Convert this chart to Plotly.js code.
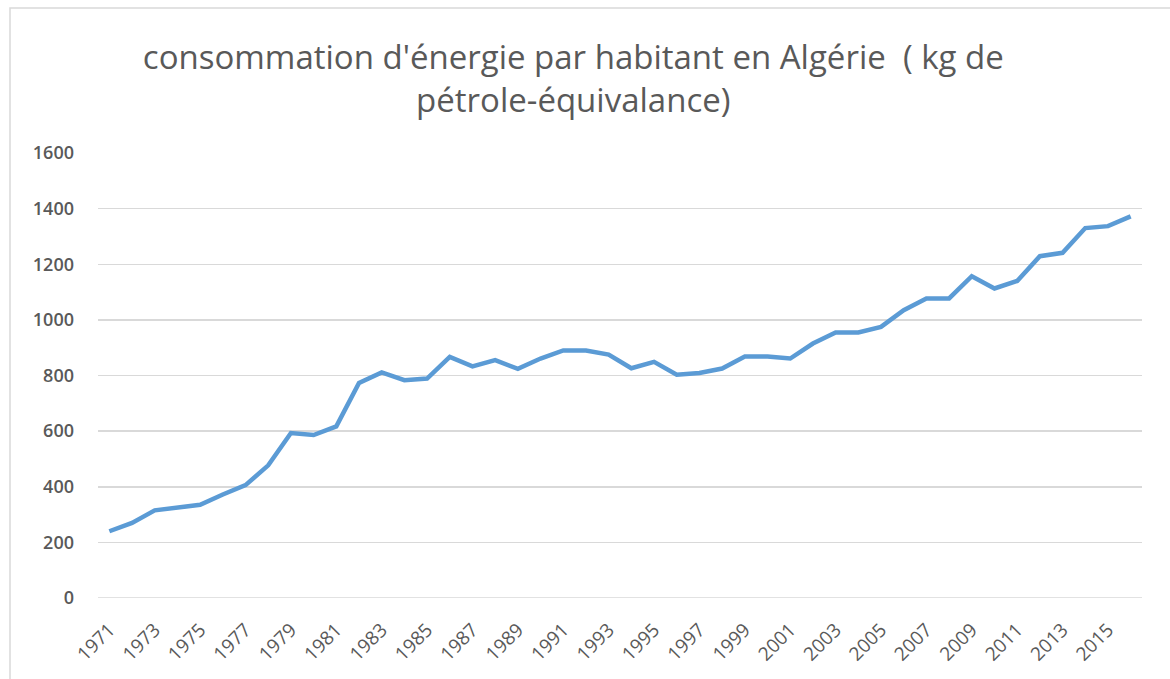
<!DOCTYPE html>
<html>
<head>
<meta charset="utf-8">
<script src="https://cdn.plot.ly/plotly-3.0.1.min.js"></script>
<style>
  html, body { margin: 0; padding: 0; background: #ffffff; }
  #chart { width: 1170px; height: 679px; }
</style>
</head>
<body>
<div id="chart"></div>
<script>
const years = ["1971","1972","1973","1974","1975","1976","1977","1978","1979","1980",
  "1981","1982","1983","1984","1985","1986","1987","1988","1989","1990",
  "1991","1992","1993","1994","1995","1996","1997","1998","1999","2000",
  "2001","2002","2003","2004","2005","2006","2007","2008","2009","2010",
  "2011","2012","2013","2014","2015","2016"];
const consumption = [240, 270, 315, 327, 335, 372, 406, 477, 593, 586,
  617, 773, 811, 783, 789, 867, 833, 855, 824, 861,
  890, 890, 875, 826, 849, 803, 809, 825, 868, 868,
  861, 915, 955, 955, 975, 1035, 1077, 1077, 1157, 1113,
  1140, 1229, 1241, 1330, 1337, 1372];
const xTickLabels = ["1971","1973","1975","1977","1979","1981","1983","1985","1987","1989",
  "1991","1993","1995","1997","1999","2001","2003","2005","2007","2009",
  "2011","2013","2015"];
const yTicks = [0, 200, 400, 600, 800, 1000, 1200, 1400, 1600];
const chartTitle = "consommation d'énergie par habitant en Algérie  ( kg de<br>pétrole-équivalance)";

const font = "Open Sans, sans-serif";

const trace = {
  x: years,
  y: consumption,
  type: "scatter",
  mode: "lines",
  line: { color: "#5B9BD5", width: 4.5, shape: "linear" },
  hoverinfo: "x+y"
};

const L = 98, R = 28, T = 153, B = 81;
const pw = 1170 - L - R, ph = 679 - T - B;

const layout = {
  width: 1170,
  height: 679,
  margin: { l: L, r: R, t: T, b: B, pad: 0 },
  paper_bgcolor: "#ffffff",
  plot_bgcolor: "#ffffff",
  showlegend: false,
  title: {
    text: chartTitle,
    font: { family: font, size: 33, color: "#595959" },
    x: 0.49, xanchor: "center", xref: "container",
    y: 0.898, yanchor: "middle", yref: "container"
  },
  xaxis: {
    type: "category",
    tickmode: "array",
    tickvals: xTickLabels,
    ticktext: xTickLabels,
    tickangle: -45,
    showgrid: false,
    zeroline: false,
    showline: false,
    ticks: "",
    ticklabelstandoff: 16,
    tickfont: { family: font, size: 19, color: "#595959" },
    range: [-0.5, years.length - 0.5],
    fixedrange: true
  },
  yaxis: {
    range: [0, 1600],
    tickmode: "array",
    tickvals: yTicks,
    ticktext: yTicks.map(String),
    showgrid: true,
    gridcolor: "#d9d9d9",
    gridwidth: 1.5,
    zeroline: false,
    showline: false,
    ticks: "",
    ticklabelstandoff: 23,
    tickfont: { family: font, size: 18, color: "#595959", weight: 600 },
    fixedrange: true
  },
  shapes: [{
    type: "rect",
    xref: "paper", yref: "paper",
    x0: (10 - L) / pw, x1: (1190 - L) / pw,
    y0: (679 - B - 700) / ph, y1: (679 - B - 8) / ph,
    line: { color: "#d9d9d9", width: 1.5 },
    fillcolor: "rgba(0,0,0,0)",
    layer: "below"
  }, {
    type: "line",
    xref: "paper", yref: "y",
    x0: 0, x1: 1, y0: 0, y1: 0,
    line: { color: "#d9d9d9", width: 1.5 },
    layer: "below"
  }]
};

Plotly.newPlot("chart", [trace], layout, { displayModeBar: false, staticPlot: true });
</script>
</body>
</html>
